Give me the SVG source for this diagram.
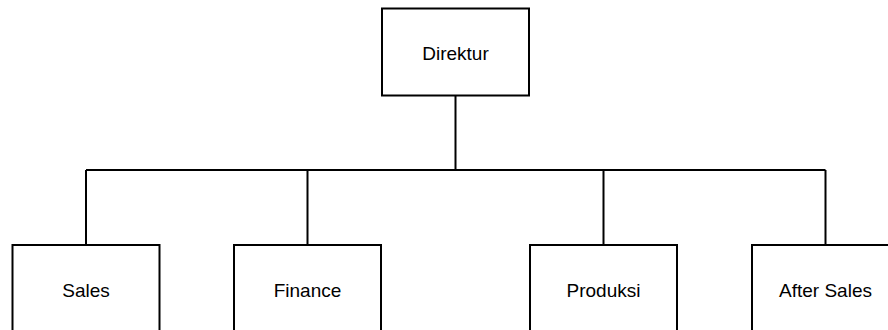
<svg xmlns="http://www.w3.org/2000/svg" width="888" height="330" viewBox="0 0 888 330">
<style>
.box{fill:#fff;stroke:#000;stroke-width:2}
.lbl{font-family:"Liberation Sans",Arial,sans-serif;font-size:19px;fill:#000;text-anchor:middle;dominant-baseline:central}
.conn{fill:none;stroke:#000;stroke-width:2}
</style>
<rect width="888" height="330" fill="#fff"/>
<g id="connectors">
<path class="conn" d="M455.5 95 V170 M86 170 H825.5 M86 170 V245 M307.5 170 V245 M603.5 170 V245 M825.5 170 V245"/>
</g>
<g id="direktur"><rect class="box" x="382" y="8.5" width="147" height="87"/><text class="lbl" x="455.5" y="53">Direktur</text></g>
<g id="sales"><rect class="box" x="12.5" y="245" width="147" height="87"/><text class="lbl" x="86" y="290">Sales</text></g>
<g id="finance"><rect class="box" x="234" y="245" width="147" height="87"/><text class="lbl" x="307.5" y="290">Finance</text></g>
<g id="produksi"><rect class="box" x="530" y="245" width="147" height="87"/><text class="lbl" x="603.5" y="290">Produksi</text></g>
<g id="aftersales"><rect class="box" x="752" y="245" width="147" height="87"/><text class="lbl" x="825.5" y="290">After Sales</text></g>
</svg>
